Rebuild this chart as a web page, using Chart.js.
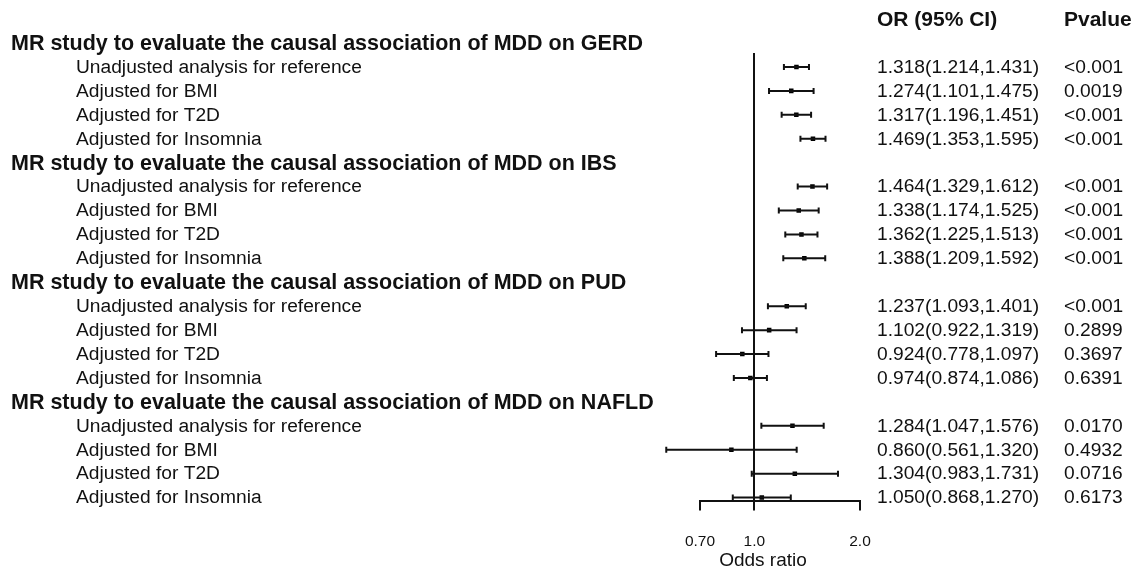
<!DOCTYPE html>
<html>
<head>
<meta charset="utf-8">
<script src="https://cdn.jsdelivr.net/npm/chart.js@4"></script>
<style>
  html, body { margin: 0; padding: 0; background: #fff; overflow: hidden; }
  #wrap { width: 1136px; height: 570px; position: relative; }
</style>
</head>
<body>
<div id="wrap"><canvas id="forest"></canvas></div>
<script>
// outcomes (one group each) and the adjustment rows inside each group
var outcomes = ['GERD', 'IBS', 'PUD', 'NAFLD']
var adjustments = ['Unadjusted analysis for reference', 'Adjusted for BMI', 'Adjusted for T2D', 'Adjusted for Insomnia']

// odds ratios with 95% CI, in row order (group by group)
var oddsRatio = [1.318, 1.274, 1.317, 1.469, 1.464, 1.338, 1.362, 1.388, 1.237, 1.102, 0.924, 0.974, 1.284, 0.860, 1.304, 1.050]
var ciLow = [1.214, 1.101, 1.196, 1.353, 1.329, 1.174, 1.225, 1.209, 1.093, 0.922, 0.778, 0.874, 1.047, 0.561, 0.983, 0.868]
var ciHigh = [1.431, 1.475, 1.451, 1.595, 1.612, 1.525, 1.513, 1.592, 1.401, 1.319, 1.097, 1.086, 1.576, 1.320, 1.731, 1.270]
var pValues = ['<0.001', '0.0019', '<0.001', '<0.001', '<0.001', '<0.001', '<0.001', '<0.001', '<0.001', '0.2899', '0.3697', '0.6391', '0.0170', '0.4932', '0.0716', '0.6173']

// x axis ticks
var tickValues = [0.7, 1.0, 2.0]
var tickLabels = ['0.70', '1.0', '2.0']

var FONT = "'Liberation Sans', Arial, Helvetica, sans-serif"

// row position on the y scale: group header takes one row, then its 4 rows
function rowOf(k) {
    var g = Math.floor(k / adjustments.length)
    var j = k % adjustments.length
    return g * (adjustments.length + 1) + 1 + j
}

var points = []
for (var k = 0; k < oddsRatio.length; k++) {
    points.push({ x: oddsRatio[k], y: rowOf(k) })
}

// horizontal CI lines with end caps
var errorBars = {
    id: 'errorBars',
    afterDatasetsDraw: function (chart) {
        var ctx = chart.ctx
        var xs = chart.scales.x
        var ys = chart.scales.y
        ctx.save()
        ctx.strokeStyle = '#111'
        ctx.lineWidth = 2
        for (var k = 0; k < oddsRatio.length; k++) {
            var y = ys.getPixelForValue(rowOf(k))
            var x1 = xs.getPixelForValue(ciLow[k])
            var x2 = xs.getPixelForValue(ciHigh[k])
            ctx.beginPath()
            ctx.moveTo(x1, y); ctx.lineTo(x2, y)
            ctx.moveTo(x1, y - 3); ctx.lineTo(x1, y + 3)
            ctx.moveTo(x2, y - 3); ctx.lineTo(x2, y + 3)
            ctx.stroke()
        }
        ctx.restore()
    }
}

// label columns: study text on the left, OR (95% CI) and p value on the right
var tableText = {
    id: 'tableText',
    afterDraw: function (chart) {
        var ctx = chart.ctx
        var ys = chart.scales.y
        ctx.save()
        ctx.fillStyle = '#111'
        ctx.textBaseline = 'middle'
        ctx.textAlign = 'left'

        ctx.font = 'bold 21px ' + FONT
        ctx.fillText('OR (95% CI)', 877, 20)
        ctx.fillText('Pvalue', 1064, 20)

        for (var g = 0; g < outcomes.length; g++) {
            var hy = ys.getPixelForValue(g * (adjustments.length + 1))
            ctx.font = 'bold 21.5px ' + FONT
            ctx.fillText('MR study to evaluate the causal association of MDD on ' + outcomes[g], 11, hy + 1)
        }
        ctx.font = '19.2px ' + FONT
        for (var k = 0; k < oddsRatio.length; k++) {
            var y = ys.getPixelForValue(rowOf(k)) + 0.5
            ctx.fillText(adjustments[k % adjustments.length], 76, y)
            ctx.fillText(oddsRatio[k].toFixed(3) + '(' + ciLow[k].toFixed(3) + ',' + ciHigh[k].toFixed(3) + ')', 877, y)
            ctx.fillText(pValues[k], 1064, y)
        }

        ctx.font = '19px ' + FONT
        ctx.textAlign = 'center'
        ctx.fillText('Odds ratio', 763, 561)
        ctx.restore()
    }
}

new Chart(document.getElementById('forest'), {
    type: 'scatter',
    data: {
        datasets: [{
            data: points,
            pointStyle: 'rect',
            pointRadius: 3.2,
            backgroundColor: '#000',
            borderColor: '#000',
            borderWidth: 0
        }]
    },
    options: {
        responsive: true,
        maintainAspectRatio: false,
        animation: false,
        events: [],
        layout: { padding: { left: 700, right: 276, top: 53, bottom: -2.4 } },
        plugins: { legend: { display: false }, tooltip: { enabled: false } },
        scales: {
            x: {
                type: 'logarithmic',
                min: 0.7,
                max: 2.0,
                bounds: 'data',
                afterBuildTicks: function (scale) {
                    scale.ticks = tickValues.map(function (v) { return { value: v } })
                },
                ticks: {
                    autoSkip: false,
                    maxRotation: 0,
                    padding: 21.6,
                    color: '#111',
                    font: { family: FONT, size: 15.5 },
                    callback: function (value, index) { return tickLabels[index] }
                },
                grid: {
                    drawOnChartArea: true,
                    drawTicks: true,
                    tickLength: 10,
                    lineWidth: 2,
                    tickColor: '#111',
                    color: function (c) { return c.tick && c.tick.value === 1 ? '#111' : 'rgba(0,0,0,0)' }
                },
                border: { display: true, color: '#111', width: 2 }
            },
            y: {
                type: 'linear',
                display: false,
                reverse: true,
                min: 0.4167,
                max: 19.125
            }
        }
    },
    plugins: [errorBars, tableText]
})
</script>
</body>
</html>
